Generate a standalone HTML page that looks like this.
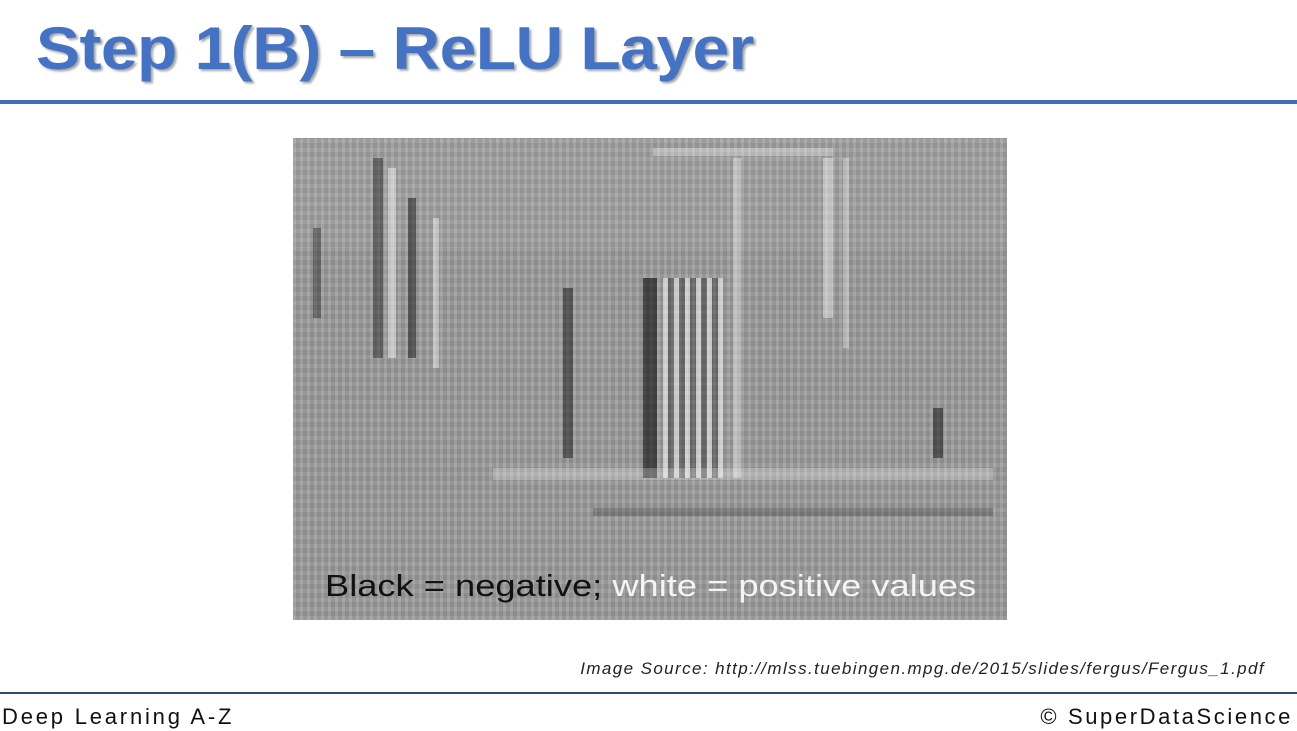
<!DOCTYPE html>
<html><head><meta charset="utf-8">
<style>
body{margin:0;width:1297px;height:731px;background:#fff;position:relative;overflow:hidden;font-family:"Liberation Sans",sans-serif}
#title{position:absolute;left:36px;top:14px;font-size:60px;font-weight:bold;color:#4472c4;letter-spacing:-0.5px;text-shadow:2px 2px 2px rgba(0,0,0,0.35);white-space:nowrap;transform:scaleX(1.1);transform-origin:left top}
#topline{position:absolute;left:0;top:100px;width:1297px;height:4px;background:#3e6fb8}
#img{position:absolute;left:293px;top:138px;width:714px;height:482px;background:#9b9b9b;overflow:hidden;
background-image:repeating-linear-gradient(90deg,rgba(255,255,255,0.08) 0 3px,rgba(0,0,0,0.06) 3px 7px),repeating-linear-gradient(0deg,rgba(255,255,255,0.05) 0 4px,rgba(0,0,0,0.04) 4px 9px)}
.s{position:absolute}
#cap{position:absolute;left:32px;top:430px;font-size:31px;color:#111;white-space:nowrap;transform:scaleX(1.17);transform-origin:left top}
#cap span{color:#f4f4f4}
#src{position:absolute;right:32px;top:659px;font-size:17px;font-style:italic;color:#222;letter-spacing:1.4px;white-space:nowrap}
#botline{position:absolute;left:0;top:692px;width:1297px;height:2px;background:#2f4a6e}
#fl{position:absolute;left:2px;top:704px;font-size:22px;color:#111;letter-spacing:2.8px}
#fr{position:absolute;right:4px;top:704px;font-size:22px;color:#111;letter-spacing:2.6px}
</style></head><body>
<div id="title">Step 1(B) – ReLU Layer</div>
<div id="topline"></div>
<div id="img">
<div class="s" style="left:0;top:0;width:714px;height:110px;background:rgba(255,255,255,0.06)"></div>
<div class="s" style="left:80px;top:20px;width:10px;height:200px;background:rgba(30,30,30,0.45)"></div>
<div class="s" style="left:95px;top:30px;width:8px;height:190px;background:rgba(255,255,255,0.45)"></div>
<div class="s" style="left:115px;top:60px;width:8px;height:160px;background:rgba(20,20,20,0.5)"></div>
<div class="s" style="left:140px;top:80px;width:6px;height:150px;background:rgba(255,255,255,0.4)"></div>
<div class="s" style="left:20px;top:90px;width:8px;height:90px;background:rgba(30,30,30,0.4)"></div>
<div class="s" style="left:270px;top:150px;width:10px;height:170px;background:rgba(20,20,20,0.5)"></div>
<div class="s" style="left:350px;top:140px;width:14px;height:200px;background:rgba(10,10,10,0.6)"></div>
<div class="s" style="left:370px;top:140px;width:60px;height:200px;background:repeating-linear-gradient(90deg,rgba(255,255,255,0.5) 0 5px,rgba(0,0,0,0.3) 5px 11px)"></div>
<div class="s" style="left:440px;top:20px;width:8px;height:320px;background:rgba(255,255,255,0.35)"></div>
<div class="s" style="left:530px;top:20px;width:10px;height:160px;background:rgba(255,255,255,0.4)"></div>
<div class="s" style="left:550px;top:20px;width:6px;height:190px;background:rgba(255,255,255,0.3)"></div>
<div class="s" style="left:640px;top:270px;width:10px;height:50px;background:rgba(10,10,10,0.5)"></div>
<div class="s" style="left:360px;top:10px;width:180px;height:8px;background:rgba(255,255,255,0.3)"></div>
<div class="s" style="left:200px;top:330px;width:500px;height:12px;background:rgba(255,255,255,0.25)"></div>
<div class="s" style="left:300px;top:370px;width:400px;height:8px;background:rgba(40,40,40,0.25)"></div>
<div id="cap">Black = negative; <span>white = positive values</span></div>
</div>
<div id="src">Image Source: http://mlss.tuebingen.mpg.de/2015/slides/fergus/Fergus_1.pdf</div>
<div id="botline"></div>
<div id="fl">Deep Learning A-Z</div>
<div id="fr">© SuperDataScience</div>
</body></html>
